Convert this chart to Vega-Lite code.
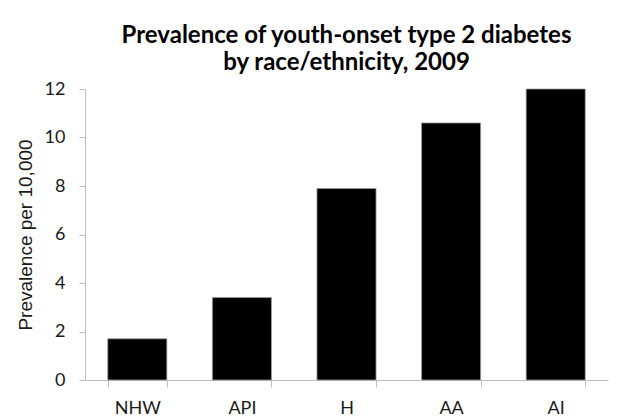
{
  "$schema": "https://vega.github.io/schema/vega-lite/v6.json",
  "autosize": {"type": "none"},
  "padding": {"left": 85, "top": 89, "right": 28, "bottom": 39},
  "width": 523,
  "height": 291,
  "background": "white",
  "title": {
    "text": ["Prevalence of youth-onset type 2 diabetes", "by race/ethnicity, 2009"],
    "font": "Lato",
    "fontSize": 24,
    "fontWeight": "bold",
    "color": "#000000",
    "anchor": "middle",
    "lineHeight": 27,
    "offset": 5
  },
  "data": {
    "values": [
      {"group": "NHW", "prevalence": 1.7},
      {"group": "API", "prevalence": 3.4},
      {"group": "H", "prevalence": 7.9},
      {"group": "AA", "prevalence": 10.6},
      {"group": "AI", "prevalence": 12.0}
    ]
  },
  "mark": {"type": "bar", "color": "#000000", "stroke": "#a0a0a0", "strokeWidth": 0.8},
  "encoding": {
    "x": {
      "field": "group",
      "type": "nominal",
      "sort": null,
      "scale": {"paddingInner": 0.435, "paddingOuter": 0.2175},
      "axis": {
        "title": null,
        "labelAngle": 0,
        "labelFont": "Lato",
        "labelFontSize": 18,
        "labelColor": "#1a1a1a",
        "labelPadding": 12,
        "domainColor": "#bdbdbd",
        "tickColor": "#bdbdbd",
        "tickSize": 7,
        "tickBand": "extent"
      }
    },
    "y": {
      "field": "prevalence",
      "type": "quantitative",
      "scale": {"domain": [0, 12]},
      "axis": {
        "title": "Prevalence per 10,000",
        "titleFont": "Liberation Sans",
        "titleFontSize": 19,
        "titleFontWeight": "normal",
        "titleColor": "#1a1a1a",
        "titlePadding": 9,
        "values": [0, 2, 4, 6, 8, 10, 12],
        "grid": false,
        "labelFont": "Lato",
        "labelFontSize": 18,
        "labelColor": "#1a1a1a",
        "labelPadding": 14,
        "domainColor": "#bdbdbd",
        "tickColor": "#bdbdbd",
        "tickSize": 6
      }
    }
  },
  "config": {"view": {"stroke": null}}
}
